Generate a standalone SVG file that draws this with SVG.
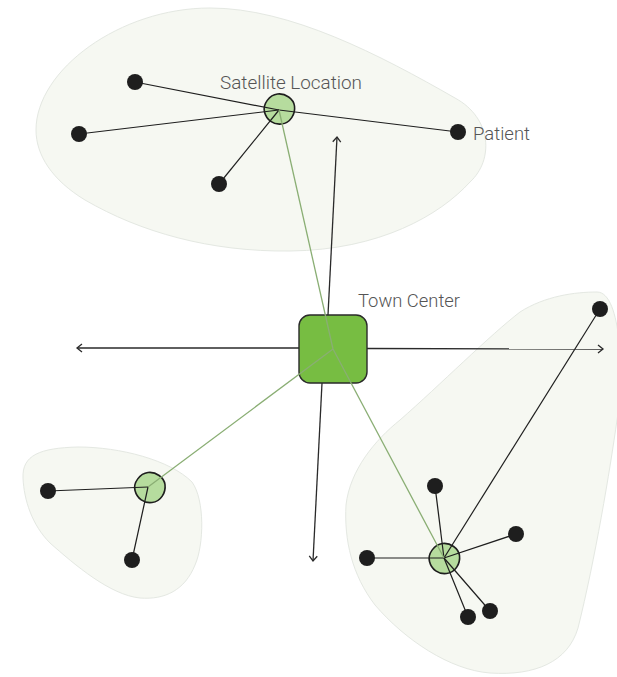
<svg xmlns="http://www.w3.org/2000/svg" width="617" height="677" viewBox="0 0 617 677">
  <style>
    .area { fill: #f6f8f2; stroke: #e4e8e2; stroke-width: 1; }
    .sat { fill: #b6dc9e; stroke: #1e1e1e; stroke-width: 1.6; }
    .patient { fill: #1e1e1e; }
    .hub { fill: #77bd42; stroke: #2a2a2a; stroke-width: 1.4; }
    .link { stroke: #1e1e1e; stroke-width: 1.2; fill: none; }
    .feed { stroke: #8aae74; stroke-width: 1.3; fill: none; }
    .reach { stroke: #2a2a2a; stroke-width: 1.3; fill: none; marker-end: url(#chev); }
    .label { font-family: Roboto, "Liberation Sans", sans-serif; font-weight: 300; font-size: 18px; fill: #555555; }
  </style>
  <defs>
    <marker id="chev" markerUnits="userSpaceOnUse" markerWidth="12" markerHeight="12" refX="6" refY="5" orient="auto">
      <path d="M1,1 L6,5 L1,9" fill="none" stroke="#2a2a2a" stroke-width="1.3"/>
    </marker>
    <path id="satShape" d="M-2,-15 C6,-16 14,-10 15,-3 C16,5 11,14 2,15 C-6,16 -13,11 -15,3 C-17,-5 -10,-14 -2,-15 Z"/>
  </defs>

  <!-- service areas -->
  <g id="areas">
    <path class="area" d="M36,130 C36,70 120,8 210,8 C290,8 380,55 455,98 C492,118 494,160 470,182 C440,215 380,250 290,251 C210,252 140,232 85,200 C52,180 36,155 36,130 Z"/>
    <path class="area" d="M23,478 C22,455 40,448 78,447 C120,447 170,460 192,482 C205,500 204,545 195,565 C185,590 165,600 140,598 C110,595 75,565 50,543 C32,525 24,500 23,478 Z"/>
    <path class="area" d="M597,292 C622,292 624,380 617,420 C610,470 595,560 578,628 C568,662 535,676 490,673 C450,670 405,640 375,605 C352,575 344,540 346,505 C350,470 375,440 400,420 C440,385 490,335 520,312 C545,296 575,292 597,292 Z"/>
  </g>

  <!-- satellite locations -->
  <g id="satellite-top"><use href="#satShape" class="sat" transform="translate(279.5,109)"/></g>
  <g id="satellite-left"><use href="#satShape" class="sat" transform="translate(150,487.5)"/></g>
  <g id="satellite-right"><use href="#satShape" class="sat" transform="translate(444.5,558.5)"/></g>

  <!-- town center -->
  <g id="town-center">
    <rect class="hub" x="299" y="315" width="68" height="68" rx="11"/>
  </g>

  <!-- connectors -->
  <g id="connectors">
    <line class="link" x1="279" y1="110" x2="135" y2="82"/>
    <line class="link" x1="279" y1="110" x2="79" y2="134"/>
    <line class="link" x1="279" y1="110" x2="219" y2="184"/>
    <line class="link" x1="279" y1="110" x2="458" y2="132"/>

    <line class="link" x1="148" y1="487" x2="48" y2="491"/>
    <line class="link" x1="148" y1="487" x2="132" y2="560"/>

    <line class="link" x1="444" y1="558" x2="600" y2="309"/>
    <line class="link" x1="444" y1="558" x2="435" y2="486"/>
    <line class="link" x1="444" y1="558" x2="516" y2="534"/>
    <line class="link" x1="444" y1="558" x2="367" y2="558"/>
    <line class="link" x1="444" y1="558" x2="468" y2="617"/>
    <line class="link" x1="444" y1="558" x2="490" y2="611"/>

    <line class="feed" x1="333" y1="349" x2="279" y2="110"/>
    <line class="feed" x1="333" y1="349" x2="148" y2="487"/>
    <line class="feed" x1="333" y1="349" x2="444" y2="558"/>

    <line class="reach" x1="299" y1="348" x2="77" y2="348"/>
    <line class="reach" x1="367" y1="348.5" x2="603" y2="349"/>
    <line class="reach" x1="328" y1="315" x2="337" y2="137"/>
    <line class="reach" x1="322" y1="383" x2="313" y2="561"/>
  </g>

  <!-- patients -->
  <g id="patients">
    <circle class="patient" cx="135" cy="82" r="8"/>
    <circle class="patient" cx="79" cy="134" r="8"/>
    <circle class="patient" cx="219" cy="184" r="8"/>
    <circle class="patient" cx="458" cy="132" r="8"/>
    <circle class="patient" cx="48" cy="491" r="8"/>
    <circle class="patient" cx="132" cy="560" r="8"/>
    <circle class="patient" cx="600" cy="309" r="8"/>
    <circle class="patient" cx="435" cy="486" r="8"/>
    <circle class="patient" cx="516" cy="534" r="8"/>
    <circle class="patient" cx="367" cy="558" r="8"/>
    <circle class="patient" cx="468" cy="617" r="8"/>
    <circle class="patient" cx="490" cy="611" r="8"/>
  </g>

  <!-- labels -->
  <g id="labels">
    <text class="label" x="220" y="89" textLength="142" lengthAdjust="spacingAndGlyphs">Satellite Location</text>
    <text class="label" x="358" y="307" textLength="102" lengthAdjust="spacingAndGlyphs">Town Center</text>
    <text class="label" x="473" y="140" textLength="57" lengthAdjust="spacingAndGlyphs">Patient</text>
  </g>
</svg>
